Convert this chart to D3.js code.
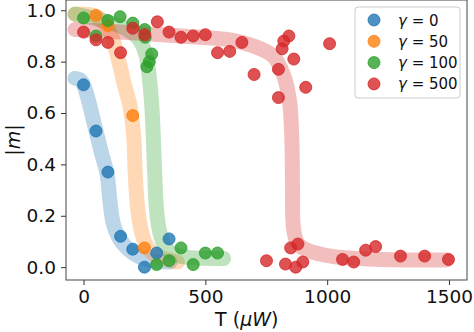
<!DOCTYPE html>
<html>
<head>
<meta charset="utf-8">
<script src="https://cdn.jsdelivr.net/npm/d3@7"></script>
<style>
  body { margin: 0; background: #fff; }
  svg { font-family: "DejaVu Sans", sans-serif; }
</style>
</head>
<body>
<svg id="chart" width="474" height="332"></svg>
<script>
// series labels and colours (tab10)
const seriesNames = ['0', '50', '100', '500'];
const seriesColors = ['#1f77b4', '#ff7f0e', '#2ca02c', '#d62728'];

// measured points [T, |m|]
const pointsG0 = [[0, 0.71], [51, 0.53], [100, 0.37], [152, 0.12], [202, 0.07], [250, 0.0], [300, 0.055], [351, 0.11]];
const pointsG50 = [[100, 0.94], [51, 0.98], [202, 0.59], [250, 0.075]];
const pointsG100 = [[0, 0.97], [51, 0.90], [100, 0.96], [150, 0.975], [202, 0.95], [251, 0.925], [253, 0.895],
  [260, 0.78], [270, 0.80], [280, 0.83], [300, 0.01], [351, 0.025], [400, 0.075], [450, 0.01], [500, 0.055], [550, 0.055]];
const pointsG500 = [[0, 0.915], [51, 0.885], [100, 0.875], [152, 0.835], [202, 0.93], [251, 0.905], [303, 0.955],
  [351, 0.915], [400, 0.895], [450, 0.90], [500, 0.905], [550, 0.835], [600, 0.84], [650, 0.875], [700, 0.75],
  [800, 0.77], [800, 0.66], [815, 0.85], [822, 0.88], [843, 0.90], [863, 0.81], [912, 0.70], [1010, 0.87],
  [751, 0.025], [829, 0.012], [850, 0.075], [880, 0.09], [871, 0.0], [900, 0.02], [1063, 0.03], [1109, 0.02],
  [1158, 0.066], [1199, 0.08], [1301, 0.043], [1400, 0.043], [1498, 0.03]];

// guide-to-the-eye bands [T, |m|]
const bandG0 = [[-35, 0.735], [-15, 0.73], [0, 0.71], [20, 0.65], [47, 0.546], [75, 0.44], [96, 0.366],
  [108, 0.26], [122, 0.17], [148, 0.11], [203, 0.055], [273, 0.027], [355, 0.02]];
const bandG50 = [[-35, 0.985], [40, 0.98], [80, 0.955], [115, 0.9], [140, 0.82], [165, 0.72], [190, 0.63],
  [205, 0.52], [212, 0.37], [220, 0.25], [233, 0.16], [255, 0.09], [290, 0.05], [340, 0.03], [385, 0.02]];
const bandG100 = [[-35, 0.985], [40, 0.97], [100, 0.955], [170, 0.93], [225, 0.89], [255, 0.83], [272, 0.72],
  [282, 0.6], [292, 0.37], [300, 0.22], [312, 0.14], [335, 0.08], [370, 0.05], [440, 0.037], [575, 0.034]];
const bandG500 = [[-35, 0.925], [150, 0.915], [400, 0.90], [600, 0.885], [700, 0.86], [780, 0.82], [820, 0.75],
  [845, 0.65], [855, 0.5], [858, 0.3], [862, 0.15], [880, 0.09], [920, 0.065], [1020, 0.042], [1230, 0.030], [1490, 0.028]];

const xTicks = [0, 500, 1000, 1500];
const yTicks = [0.0, 0.2, 0.4, 0.6, 0.8, 1.0];

const allPoints = [pointsG0, pointsG50, pointsG100, pointsG500];
const allBands = [bandG0, bandG50, bandG100, bandG500];

const margin = { top: 0, right: 7, bottom: 52, left: 66 };
const width = 474 - margin.left - margin.right;
const height = 332 - margin.top - margin.bottom;

const svg = d3.select('#chart');
const g = svg.append('g').attr('transform', `translate(${margin.left},${margin.top})`);

const x = d3.scaleLinear().domain([-72, 1574]).range([0, width]);
const y = d3.scaleLinear().domain([-0.05, 1.04]).range([height, 0]);

// clip to plot area
g.append('clipPath').attr('id', 'plot-clip')
  .append('rect').attr('width', width).attr('height', height);
const plot = g.append('g').attr('clip-path', 'url(#plot-clip)');

// bands
const line = d3.line()
  .x(d => x(d[0]))
  .y(d => y(d[1]))
  .curve(d3.curveCatmullRom.alpha(0.5));

allBands.forEach((band, i) => {
  plot.append('path')
    .datum(band)
    .attr('d', line)
    .attr('fill', 'none')
    .attr('stroke', seriesColors[i])
    .attr('stroke-width', 15)
    .attr('stroke-linecap', 'round')
    .attr('stroke-linejoin', 'round')
    .attr('stroke-opacity', 0.3);
});

// points
allPoints.forEach((pts, i) => {
  plot.selectAll(`.pt-${i}`)
    .data(pts)
    .enter()
    .append('circle')
    .attr('class', `pt-${i}`)
    .attr('cx', d => x(d[0]))
    .attr('cy', d => y(d[1]))
    .attr('r', 6)
    .attr('fill', seriesColors[i])
    .attr('fill-opacity', 0.8)
    .attr('stroke', seriesColors[i])
    .attr('stroke-opacity', 0.8)
    .attr('stroke-width', 1);
});

// axes
const xAxis = g.append('g')
  .attr('transform', `translate(0,${height})`)
  .call(d3.axisBottom(x).tickValues(xTicks).tickSize(5).tickPadding(5).tickFormat(d3.format('d')));
const yAxis = g.append('g')
  .call(d3.axisLeft(y).tickValues(yTicks).tickSize(5).tickPadding(5).tickFormat(d3.format('.1f')));

[xAxis, yAxis].forEach(ax => {
  ax.select('.domain').remove();
  ax.selectAll('line').attr('stroke', '#333');
  ax.selectAll('text').attr('fill', '#111').style('font-size', '18.5px').style('font-family', '"DejaVu Sans", sans-serif');
});

// frame
g.append('rect')
  .attr('width', width).attr('height', height)
  .attr('fill', 'none').attr('stroke', '#444').attr('stroke-width', 1);

// axis labels
const xl = svg.append('text')
  .attr('x', margin.left + x(670))
  .attr('y', 326)
  .attr('text-anchor', 'middle')
  .attr('fill', '#111')
  .style('font-size', '19px');
xl.append('tspan').text('T (');
xl.append('tspan').attr('font-style', 'italic').text('μW');
xl.append('tspan').text(')');

svg.append('text')
  .attr('transform', `translate(20,${margin.top + height / 2}) rotate(-90)`)
  .attr('text-anchor', 'middle')
  .attr('fill', '#111')
  .style('font-size', '19px')
  .html('|<tspan font-style="italic">m</tspan>|');

// legend
const legend = svg.append('g').attr('transform', 'translate(355,7)');
legend.append('rect')
  .attr('width', 105).attr('height', 91)
  .attr('rx', 3)
  .attr('fill', '#fff').attr('fill-opacity', 0.8)
  .attr('stroke', '#ccc');

seriesNames.forEach((name, i) => {
  const row = legend.append('g').attr('transform', `translate(0,${13 + i * 21.3})`);
  row.append('circle')
    .attr('cx', 19).attr('cy', 0).attr('r', 6)
    .attr('fill', seriesColors[i]).attr('fill-opacity', 0.8)
    .attr('stroke', seriesColors[i]).attr('stroke-opacity', 0.8);
  const t = row.append('text')
    .attr('x', 43).attr('y', 5.5)
    .attr('fill', '#111')
    .style('font-size', '15px');
  t.append('tspan').attr('font-style', 'italic').text('γ');
  t.append('tspan').text(' = ' + name);
});
</script>
</body>
</html>
